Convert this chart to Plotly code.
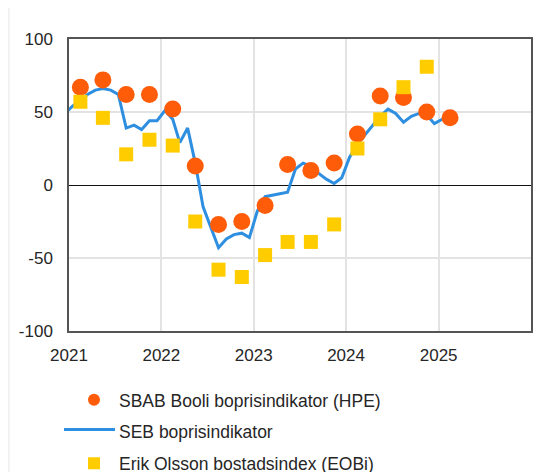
import plotly.graph_objects as go

# SBAB Booli boprisindikator (HPE) - quarterly
hpe_dates = ["2021-02-15", "2021-05-15", "2021-08-15", "2021-11-15",
             "2022-02-15", "2022-05-15", "2022-08-15", "2022-11-15",
             "2023-02-15", "2023-05-15", "2023-08-15", "2023-11-15",
             "2024-02-15", "2024-05-15", "2024-08-15", "2024-11-15",
             "2025-02-15"]
hpe_values = [67, 72, 62, 62, 52, 13, -27, -25, -14, 14, 10, 15, 35, 61, 60, 50, 46]

# Erik Olsson bostadsindex (EOBi) - quarterly
eobi_dates = hpe_dates[:16]
eobi_values = [57, 46, 21, 31, 27, -25, -58, -63, -48, -39, -39, -27, 25, 45, 67, 81]

# SEB boprisindikator - monthly
seb_dates = ["2020-12-15",
             "2021-01-15", "2021-02-15", "2021-03-15", "2021-04-15", "2021-05-15", "2021-06-15",
             "2021-07-15", "2021-08-15", "2021-09-15", "2021-10-15", "2021-11-15", "2021-12-15",
             "2022-01-15", "2022-02-15", "2022-03-15", "2022-04-15", "2022-05-15", "2022-06-15",
             "2022-07-15", "2022-08-15", "2022-09-15", "2022-10-15", "2022-11-15", "2022-12-15",
             "2023-01-15", "2023-02-15", "2023-03-15", "2023-04-15", "2023-05-15", "2023-06-15",
             "2023-07-15", "2023-08-15", "2023-09-15", "2023-10-15", "2023-11-15", "2023-12-15",
             "2024-01-15", "2024-02-15", "2024-03-15", "2024-04-15", "2024-05-15", "2024-06-15",
             "2024-07-15", "2024-08-15", "2024-09-15", "2024-10-15", "2024-11-15", "2024-12-15",
             "2025-01-15"]
seb_values = [49,
              54, 58, 62, 65, 66, 65, 62, 39, 41, 38, 44, 44,
              51, 45, 29, 39, 15, -15, -29, -43, -37, -34, -33, -36,
              -18, -8, -7, -6, -5, 11, 15, 13, 8, 4, 1, 5,
              19, 28, 34, 41, 47, 52, 49, 43, 47, 49, 48, 42,
              45]

x_tickvals = ["2021-01-01", "2022-01-01", "2023-01-01", "2024-01-01", "2025-01-01"]
x_ticktext = ["2021", "2022", "2023", "2024", "2025"]
y_tickvals = [-100, -50, 0, 50, 100]
y_ticktext = ["-100", "-50", "0", "50", "100"]

FONT = "Liberation Sans, Arial, sans-serif"
TXT = "#262626"
BLUE = "#2E8FE0"

fig = go.Figure()

fig.add_trace(go.Scatter(
    x=seb_dates, y=seb_values, mode="lines", name="SEB boprisindikator",
    line=dict(color=BLUE, width=3), showlegend=False))
# legend entry for the SEB line (its sample line is drawn as a longer shape below)
fig.add_trace(go.Scatter(
    x=[None], y=[None], mode="lines", name="SEB boprisindikator",
    line=dict(color="rgba(0,0,0,0)", width=3), legendrank=2, legendgroup="b"))
fig.add_trace(go.Scatter(
    x=hpe_dates, y=hpe_values, mode="markers", name="SBAB Booli boprisindikator (HPE)",
    marker=dict(color="#FF5C0A", size=17, symbol="circle", line=dict(width=0)),
    legendrank=1, legendgroup="a"))
fig.add_trace(go.Scatter(
    x=eobi_dates, y=eobi_values, mode="markers", name="Erik Olsson bostadsindex (EOBi)",
    marker=dict(color="#FFCC00", size=14, symbol="square", line=dict(width=0)),
    legendrank=3, legendgroup="c"))

# faint page border on the left
fig.add_shape(type="line", xref="paper", yref="paper",
              x0=-0.13, x1=-0.13, y0=-0.6, y1=1.15,
              line=dict(color="#e6e6e6", width=1), layer="below")
# longer legend line sample
fig.add_shape(type="line", xref="paper", yref="paper",
              x0=-0.0108, x1=0.0996, y0=-0.3373, y1=-0.3373,
              line=dict(color=BLUE, width=3), layer="above")

fig.update_layout(
    width=557, height=472,
    margin=dict(l=61, r=34, t=31, b=149, autoexpand=False),
    paper_bgcolor="white", plot_bgcolor="white",
    font=dict(family=FONT, size=17, color=TXT),
    showlegend=True,
    legend=dict(orientation="v", x=0.0, xanchor="left", y=-0.174, yanchor="top",
                traceorder="grouped", tracegroupgap=6, itemsizing="constant",
                font=dict(family=FONT, size=17.5, color=TXT),
                itemwidth=40, bgcolor="rgba(0,0,0,0)"),
    xaxis=dict(type="date", range=["2021-01-01", "2026-01-01"],
               tickvals=x_tickvals, ticktext=x_ticktext, automargin=False,
               showgrid=True, gridcolor="#e3e3e3", gridwidth=1.5,
               showline=True, linecolor="#555555", linewidth=1.5, mirror=True,
               ticks="", ticklabelstandoff=8,
               tickfont=dict(family=FONT, size=17, color=TXT), zeroline=False),
    yaxis=dict(range=[-100, 100], tickvals=y_tickvals, ticktext=y_ticktext, automargin=False,
               showgrid=True, gridcolor="#e3e3e3", gridwidth=1.5,
               showline=True, linecolor="#555555", linewidth=1.5, mirror=True,
               zeroline=True, zerolinecolor="#111111", zerolinewidth=1.2,
               ticks="", ticklabelstandoff=11,
               tickfont=dict(family=FONT, size=17, color=TXT)),
)

fig.write_html("out.html")
